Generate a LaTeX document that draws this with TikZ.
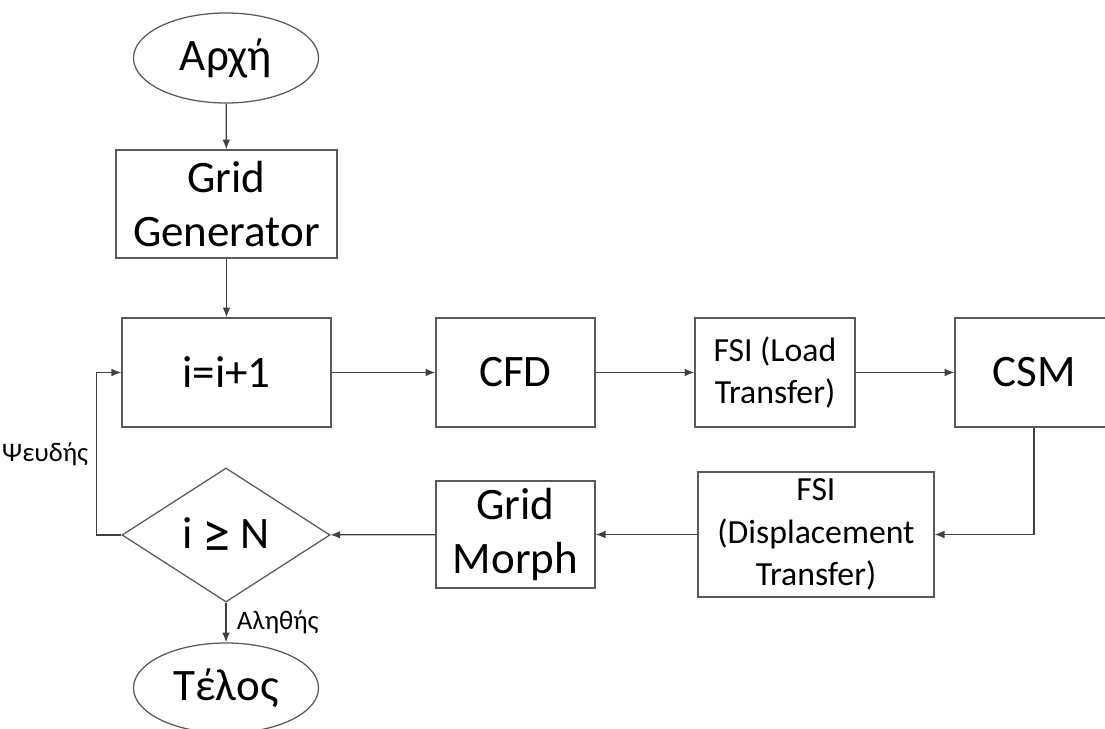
\documentclass[tikz,border=0pt]{standalone}
\usepackage{fontspec}
\setmainfont{Carlito}
\usetikzlibrary{arrows.meta,positioning,shapes.geometric}
\definecolor{edgegray}{HTML}{404040}
\definecolor{boxgray}{HTML}{5A5A5A}
\tikzset{
  procbox/.style={
    rectangle, draw=boxgray, line width=0.9pt,
    align=center, inner sep=2pt,
    font=\fontsize{32}{39}\selectfont
  },
  fsibox/.style={
    procbox, font=\fontsize{24}{30}\selectfont
  },
  termnode/.style={
    ellipse, draw=boxgray, line width=0.9pt,
    minimum width=4.625cm, minimum height=2.25cm, inner sep=0pt,
    font=\fontsize{32}{39}\selectfont
  },
  decnode/.style={
    diamond, draw=boxgray, line width=0.9pt,
    minimum width=5.2cm, minimum height=3.35cm, inner sep=0pt,
    font=\fontsize{32}{39}\selectfont
  },
  flowarrow/.style={
    -{Latex[length=7pt,width=5.5pt]}, draw=edgegray, line width=0.9pt
  },
  branchlabel/.style={
    font=\fontsize{19}{23}\selectfont
  },
}

\begin{document}
\begin{tikzpicture}[x=0.025cm, y=-0.025cm]
  \useasboundingbox (0,0) rectangle (1105,729);

  % Start / end
  \node[termnode] (start) at (226,58) {Αρχή};
  \node[termnode] (stop) at (226,688) {Τέλος};

  % Left column
  \node[procbox, minimum width=5.525cm, minimum height=2.7cm] (gen) at (226.5,204) {Grid\\Generator};
  \node[procbox, minimum width=5.225cm, minimum height=2.725cm] (inc) at (226.5,372.5) {i=i+1};
  \node[decnode] (cond) at (226,535) {i \raisebox{-3pt}{\fontsize{40}{39}\selectfont ≥} N};

  % Upper row
  \node[procbox, minimum width=3.975cm, minimum height=2.725cm] (cfd) at (515.5,372.5) {CFD};
  \node[fsibox, minimum width=4cm, minimum height=2.725cm] (load) at (775,372.5) {FSI (Load\\Transfer)};
  \node[procbox, minimum width=3.95cm, minimum height=2.725cm] (csm) at (1034,372.5) {CSM};

  % Lower row
  \node[fsibox, minimum width=5.9cm, minimum height=3.125cm] (disp) at (816,534.5) {FSI\\(Displacement\\Transfer)};
  \node[procbox, minimum width=3.975cm, minimum height=2.675cm] (morph) at (515.5,534.5) {Grid\\Morph};

  % Arrows
  \draw[flowarrow] (start) -- (gen);
  \draw[flowarrow] (gen) -- (inc);
  \draw[flowarrow] (inc) -- (cfd);
  \draw[flowarrow] (cfd) -- (load);
  \draw[flowarrow] (load) -- (csm);
  \draw[flowarrow] (csm.south) |- (disp.east);
  \draw[flowarrow] (disp) -- (morph);
  \draw[flowarrow] (morph) -- (cond);
  \draw[flowarrow] (cond.west) -- ++(-25,0) |- node[branchlabel, pos=0.25, left=2pt] {Ψευδής} (inc.west);
  \draw[flowarrow] (cond) -- node[branchlabel, right=4pt] {Αληθής} (stop);
\end{tikzpicture}
\end{document}
